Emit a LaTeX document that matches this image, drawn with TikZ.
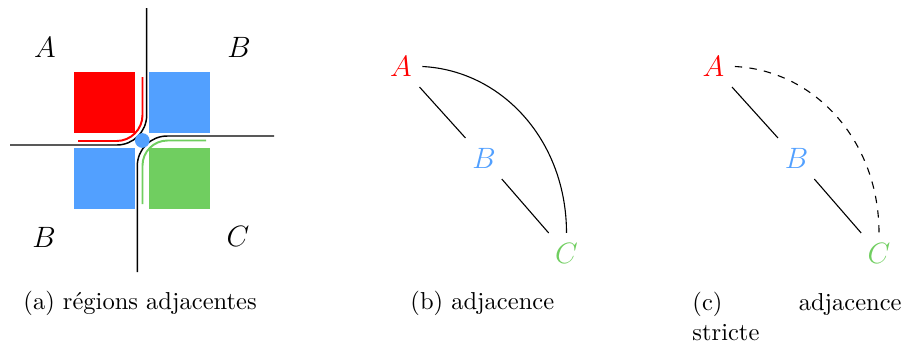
\documentclass[tikz,border=0pt]{standalone}
\usepackage{tikz}
\definecolor{cred}{RGB}{255,0,0}
\definecolor{cblue}{RGB}{82,160,255}
\definecolor{cgreen}{RGB}{112,206,96}
\begin{document}
\begin{tikzpicture}[x=0.408pt,y=-0.408pt,
  lab/.style={inner sep=4.1pt, font=\large},
  alab/.style={inner sep=2pt, font=\large},
  sepline/.style={line width=0.6pt, black, rounded corners=12.2pt},
  edgeline/.style={line width=0.45pt, black},
  caption/.style={inner sep=0pt, anchor=base west}]
\useasboundingbox (0,0) rectangle (901,345);
% ---------- panel (a)
\fill[cred]   (74,72)   rectangle (135,133);
\fill[cblue]  (149,72)  rectangle (210,133);
\fill[cblue]  (74,148)  rectangle (135,209);
\fill[cgreen] (149,148) rectangle (210,209);
\draw[cred, line width=0.8pt, rounded corners=10.6pt] (142.5,77) -- (142.5,141) -- (78,141);
\draw[cgreen, line width=0.8pt, rounded corners=10.2pt] (206,140.5) -- (142.5,140.5) -- (142.5,204);
\draw[sepline] (146.7,8) -- (146.7,145) -- (10,145);
\draw[sepline] (274,136) -- (137.3,136) -- (137.3,272);
\fill[cblue] (142.3,140.5) circle[radius=3.0pt];
\node[alab] (la) at (45,47) {$A$};
\node[alab] (lb1) at (239,47) {$B$};
\node[alab] (lb2) at (44,237) {$B$};
\node[alab] (lc) at (238,236) {$C$};
% ---------- panel (b)
\node[lab, text=cred]   (A1) at (401,66.5)  {$A$};
\node[lab, text=cblue]  (B1) at (484,158.5) {$B$};
\node[lab, text=cgreen] (C1) at (566.5,253.5) {$C$};
\draw[edgeline] (A1) -- (B1);
\draw[edgeline] (B1) -- (C1);
\draw[edgeline] (A1.east) .. controls +(80,4) and +(0,-92) .. (C1.north);
% ---------- panel (c)
\node[lab, text=cred]   (A2) at (713.5,66.5)  {$A$};
\node[lab, text=cblue]  (B2) at (796.5,158.5) {$B$};
\node[lab, text=cgreen] (C2) at (879,253.5) {$C$};
\draw[edgeline] (A2) -- (B2);
\draw[edgeline] (B2) -- (C2);
\draw[edgeline, dashed] (A2.east) .. controls +(80,4) and +(0,-92) .. (C2.north);
% ---------- captions
\node[caption] (capa) at (23,309) {(a) régions adjacentes};
\node[caption] (capb) at (410,309) {(b) adjacence};
\node[inner sep=0pt, anchor=north west, text width=85.3pt, align=left] (capc) at (692,292) {(c)\hfill adjacence\\stricte};
\end{tikzpicture}
\end{document}
